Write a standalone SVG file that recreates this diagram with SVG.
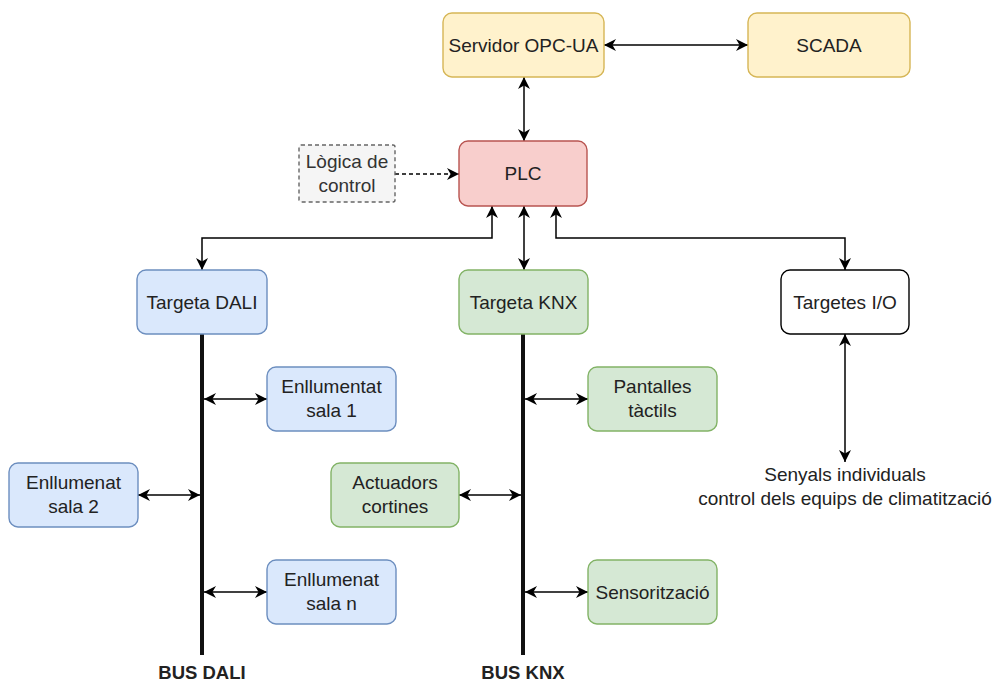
<svg xmlns="http://www.w3.org/2000/svg" width="997" height="682" viewBox="0 0 997 682">
  <style>
    .box { stroke-width: 1.4; }
    .yellow { fill: #fff2cc; stroke: #d6b656; }
    .red { fill: #f8cecc; stroke: #b85450; }
    .blue { fill: #dae8fc; stroke: #6c8ebf; }
    .green { fill: #d5e8d4; stroke: #82b366; }
    .white { fill: #ffffff; stroke: #000000; }
    .gray { fill: #f5f5f5; stroke: #666666; stroke-dasharray: 4 3; }
    text { font-family: "Liberation Sans", Arial, sans-serif; font-size: 19px; fill: #222; text-anchor: middle; }
    .note { fill: #333; }
    .bus-label { font-weight: bold; font-size: 18.5px; }
    .link { fill: none; stroke: #000; stroke-width: 1.5; }
    .bus { fill: none; stroke: #111; stroke-width: 4; }
  </style>
  <defs>
    <marker id="arr" viewBox="0 0 10 10" refX="10" refY="5" markerWidth="12" markerHeight="12" markerUnits="userSpaceOnUse" orient="auto-start-reverse">
      <path d="M0,0 L10,5 L0,10 L3,5 z" fill="#000"/>
    </marker>
  </defs>

  <!-- connectors -->
  <g id="connectors">
    <line class="link" x1="604" y1="45" x2="748" y2="45" marker-start="url(#arr)" marker-end="url(#arr)"/>
    <line class="link" x1="524" y1="77" x2="524" y2="141" marker-start="url(#arr)" marker-end="url(#arr)"/>
    <line class="link" x1="395" y1="174" x2="459" y2="174" stroke-dasharray="4 3" marker-end="url(#arr)"/>
    <path class="link" d="M492,206 V238 H202 V270" marker-start="url(#arr)" marker-end="url(#arr)"/>
    <line class="link" x1="524" y1="206" x2="524" y2="270" marker-start="url(#arr)" marker-end="url(#arr)"/>
    <path class="link" d="M556,206 V238 H845 V270" marker-start="url(#arr)" marker-end="url(#arr)"/>
    <line class="link" x1="845" y1="334" x2="845" y2="462" marker-start="url(#arr)" marker-end="url(#arr)"/>

    <!-- DALI bus -->
    <line class="bus" x1="202" y1="334" x2="202" y2="655"/>
    <line class="link" x1="204" y1="399" x2="267" y2="399" marker-start="url(#arr)" marker-end="url(#arr)"/>
    <line class="link" x1="138" y1="495" x2="200" y2="495" marker-start="url(#arr)" marker-end="url(#arr)"/>
    <line class="link" x1="204" y1="592" x2="267" y2="592" marker-start="url(#arr)" marker-end="url(#arr)"/>

    <!-- KNX bus -->
    <line class="bus" x1="523" y1="334" x2="523" y2="655"/>
    <line class="link" x1="525" y1="399" x2="588" y2="399" marker-start="url(#arr)" marker-end="url(#arr)"/>
    <line class="link" x1="459" y1="495" x2="521" y2="495" marker-start="url(#arr)" marker-end="url(#arr)"/>
    <line class="link" x1="525" y1="592" x2="588" y2="592" marker-start="url(#arr)" marker-end="url(#arr)"/>
  </g>

  <!-- nodes -->
  <g id="opcua">
    <rect class="box yellow" x="443" y="13" width="161" height="64" rx="9"/>
    <text x="523.5" y="51.5">Servidor OPC-UA</text>
  </g>
  <g id="scada">
    <rect class="box yellow" x="748" y="13" width="162" height="64" rx="9"/>
    <text x="829" y="51.5">SCADA</text>
  </g>
  <g id="plc">
    <rect class="box red" x="459" y="141" width="128" height="65" rx="9"/>
    <text x="523" y="180">PLC</text>
  </g>
  <g id="logica">
    <rect class="box gray" x="299" y="145" width="96" height="57" rx="2"/>
    <text class="note" x="347" y="168">Lògica de</text>
    <text class="note" x="347" y="192">control</text>
  </g>
  <g id="targeta-dali">
    <rect class="box blue" x="137" y="270" width="130" height="64" rx="9"/>
    <text x="202" y="308.5">Targeta DALI</text>
  </g>
  <g id="targeta-knx">
    <rect class="box green" x="459" y="270" width="129" height="64" rx="9"/>
    <text x="523.5" y="308.5">Targeta KNX</text>
  </g>
  <g id="targetes-io">
    <rect class="box white" x="781" y="270" width="128" height="64" rx="9"/>
    <text x="845" y="308.5">Targetes I/O</text>
  </g>
  <g id="enllumenat-1">
    <rect class="box blue" x="267" y="367" width="129" height="64" rx="9"/>
    <text x="331.5" y="393">Enllumentat</text>
    <text x="331.5" y="417">sala 1</text>
  </g>
  <g id="enllumenat-2">
    <rect class="box blue" x="9" y="463" width="129" height="64" rx="9"/>
    <text x="73.5" y="489">Enllumenat</text>
    <text x="73.5" y="513">sala 2</text>
  </g>
  <g id="enllumenat-n">
    <rect class="box blue" x="267" y="560" width="129" height="64" rx="9"/>
    <text x="331.5" y="586">Enllumenat</text>
    <text x="331.5" y="610">sala n</text>
  </g>
  <g id="pantalles">
    <rect class="box green" x="588" y="367" width="129" height="64" rx="9"/>
    <text x="652.5" y="393">Pantalles</text>
    <text x="652.5" y="417">tàctils</text>
  </g>
  <g id="actuadors">
    <rect class="box green" x="331" y="463" width="128" height="64" rx="9"/>
    <text x="395" y="489">Actuadors</text>
    <text x="395" y="513">cortines</text>
  </g>
  <g id="sensoritzacio">
    <rect class="box green" x="588" y="560" width="129" height="64" rx="9"/>
    <text x="652.5" y="598.5">Sensorització</text>
  </g>
  <g id="senyals">
    <text x="845" y="481">Senyals individuals</text>
    <text x="845" y="505">control dels equips de climatització</text>
  </g>
  <g id="bus-labels">
    <text class="bus-label" x="202" y="679">BUS DALI</text>
    <text class="bus-label" x="523" y="679">BUS KNX</text>
  </g>
</svg>
